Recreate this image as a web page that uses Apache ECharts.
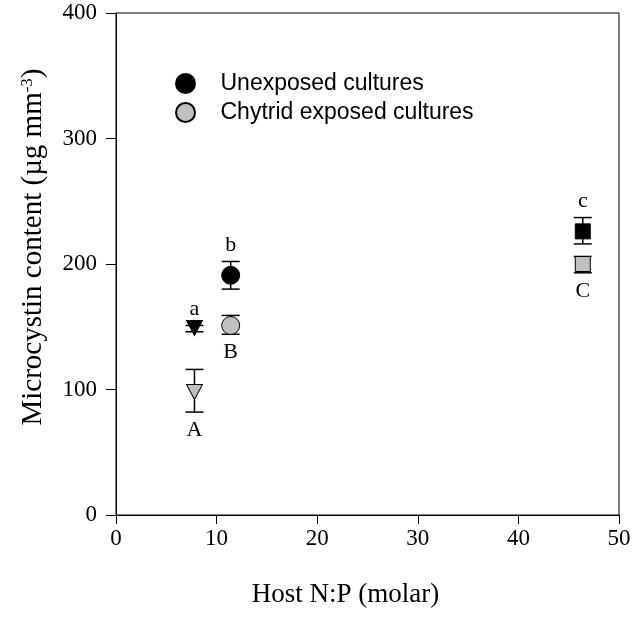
<!DOCTYPE html>
<html>
<head>
<meta charset="utf-8">
<script src="https://cdn.jsdelivr.net/npm/echarts@6/dist/echarts.min.js"></script>
<style>
  html, body { margin: 0; padding: 0; background: #fff; }
  #chart { width: 635px; height: 617px; }
</style>
</head>
<body>
<div id="chart"></div>
<script>
// host N:P of each culture
const hostNP = [7.8, 11.4, 46.4]
const pointSymbols = ['triangle', 'circle', 'rect']

// unexposed cultures (mean, error bar low / high)
const unexposedMean = [149, 191, 226]
const unexposedLow = [146, 180, 216]
const unexposedHigh = [151, 202, 237]
const unexposedLetters = ['a', 'b', 'c']

// chytrid exposed cultures
const chytridMean = [98, 151, 200]
const chytridLow = [82, 144, 193]
const chytridHigh = [116, 159, 206]
const chytridLetters = ['A', 'B', 'C']

const xTicks = [0, 10, 20, 30, 40, 50]
const yTicks = [0, 100, 200, 300, 400]

const serif = 'Liberation Serif'

function points(mean) {
  return hostNP.map(function (x, i) {
    const sym = pointSymbols[i]
    let size = 18
    if (sym === 'rect') size = 15
    if (sym === 'triangle') size = [16, 15]
    return {
      value: [x, mean[i]],
      symbol: sym,
      symbolSize: size,
      symbolRotate: sym === 'triangle' ? 180 : 0
    }
  })
}

function errorData(low, high, letters, above) {
  return hostNP.map(function (x, i) {
    return [x, low[i], high[i], letters[i], above ? 1 : 0]
  })
}

function renderErr(params, api) {
  const x = api.value(0)
  const lo = api.coord([x, api.value(1)])
  const hi = api.coord([x, api.value(2)])
  const letter = api.value(3)
  const above = api.value(4) === 1
  const half = 9
  const st = { stroke: '#000', lineWidth: 1.5 }
  return {
    type: 'group',
    children: [
      { type: 'line', shape: { x1: lo[0], y1: lo[1], x2: hi[0], y2: hi[1] }, style: st },
      { type: 'line', shape: { x1: lo[0] - half, y1: lo[1], x2: lo[0] + half, y2: lo[1] }, style: st },
      { type: 'line', shape: { x1: hi[0] - half, y1: hi[1], x2: hi[0] + half, y2: hi[1] }, style: st },
      {
        type: 'text',
        style: {
          text: letter,
          x: above ? hi[0] : lo[0],
          y: above ? hi[1] - 5 : lo[1] + 7,
          align: 'center',
          verticalAlign: above ? 'bottom' : 'top',
          fontFamily: serif,
          fontSize: 22,
          fill: '#000'
        }
      }
    ]
  }
}

const chart = echarts.init(document.getElementById('chart'))
chart.setOption({
  animation: false,
  backgroundColor: '#fff',
  grid: {
    left: 116,
    top: 13,
    right: 16,
    bottom: 102,
    outerBoundsMode: 'none',
    show: true,
    borderColor: '#000',
    borderWidth: 1
  },
  legend: {
    left: 170,
    top: 67,
    orient: 'vertical',
    itemGap: 6,
    itemWidth: 20,
    itemHeight: 19,
    icon: 'circle',
    data: ['Unexposed cultures', 'Chytrid exposed cultures'],
    textStyle: { fontFamily: 'Liberation Sans', fontSize: 23, color: '#000', padding: [0, 0, 0, 20] }
  },
  xAxis: {
    type: 'value',
    min: xTicks[0],
    max: xTicks[xTicks.length - 1],
    interval: 10,
    name: 'Host N:P (molar)',
    nameLocation: 'middle',
    nameGap: 66,
    nameTextStyle: { fontFamily: serif, fontSize: 27, color: '#000', padding: [0, 44, 0, 0] },
    axisLine: { onZero: false, lineStyle: { color: '#000', width: 1 } },
    axisTick: { show: true, inside: false, length: 9, lineStyle: { color: '#000' } },
    axisLabel: { fontFamily: serif, fontSize: 23, color: '#000', margin: 12 },
    splitLine: { show: false }
  },
  yAxis: {
    type: 'value',
    min: yTicks[0],
    max: yTicks[yTicks.length - 1],
    interval: 100,
    name: 'Microcystin content (µg mm{sup|-3})',
    nameLocation: 'middle',
    nameGap: 68,
    nameTextStyle: {
      fontFamily: serif,
      fontSize: 29,
      color: '#000',
      padding: [0, 0, 0, 34],
      rich: {
        sup: { fontFamily: serif, fontSize: 17, color: '#000', verticalAlign: 'top', lineHeight: 17, padding: [0, 0, 12, 0] }
      }
    },
    axisLine: { show: true, lineStyle: { color: '#000', width: 1 } },
    axisTick: { show: true, inside: false, length: 10, lineStyle: { color: '#000' } },
    axisLabel: { fontFamily: serif, fontSize: 23, color: '#000', margin: 19 },
    splitLine: { show: false }
  },
  series: [
    {
      name: 'Unexposed cultures err',
      type: 'custom',
      renderItem: renderErr,
      data: errorData(unexposedLow, unexposedHigh, unexposedLetters, true),
      z: 1
    },
    {
      name: 'Chytrid exposed cultures err',
      type: 'custom',
      renderItem: renderErr,
      data: errorData(chytridLow, chytridHigh, chytridLetters, false),
      z: 1
    },
    {
      name: 'Unexposed cultures',
      type: 'scatter',
      data: points(unexposedMean),
      itemStyle: { color: '#000', borderColor: '#000', borderWidth: 1, opacity: 1 },
      z: 3
    },
    {
      name: 'Chytrid exposed cultures',
      type: 'scatter',
      data: points(chytridMean),
      itemStyle: { color: '#c0c0c0', borderColor: '#000', borderWidth: 1, opacity: 1 },
      z: 3
    }
  ]
})
</script>
</body>
</html>
